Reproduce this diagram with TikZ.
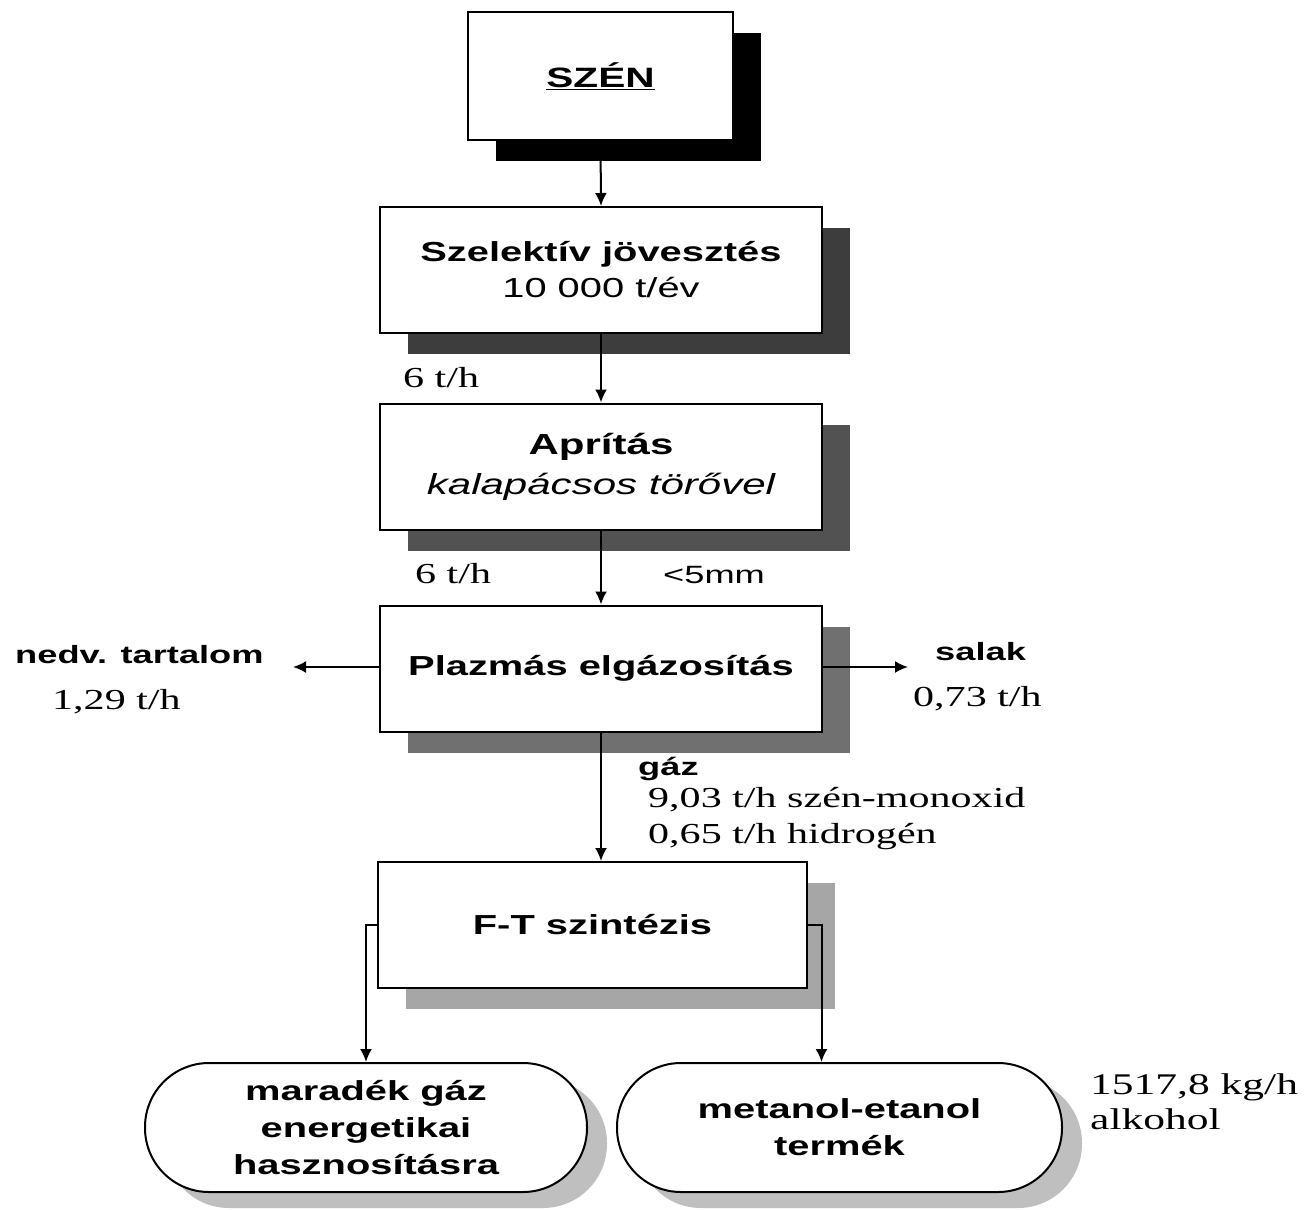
\documentclass[tikz,border=0pt]{standalone}
\usepackage{fontspec}
\setmainfont{Liberation Sans}[FakeStretch=1.45]
\newfontfamily\tnr{Liberation Serif}[FakeStretch=1.45]
\usetikzlibrary{shadows,arrows.meta}

\tikzset{
  procbox/.style={draw, line width=2pt, fill=white, minimum width=442pt, minimum height=126pt,
    inner sep=0pt, align=center, font=\fontsize{27.5}{36}\selectfont\bfseries,
    drop shadow={shadow xshift=28pt, shadow yshift=-21pt, fill=#1, opacity=1}},
  endbox/.style={draw, line width=2pt, fill=white, rounded corners=64pt, minimum width=442pt,
    minimum height=129pt, inner sep=0pt, align=center, font=\fontsize{27.5}{37}\selectfont\bfseries,
    drop shadow={shadow xshift=20pt, shadow yshift=-16pt, fill=black!25, opacity=1}},
  flow/.style={line width=2pt, -{Latex[length=13pt,width=12pt]}},
  lab/.style={font=\fontsize{25}{30}\selectfont\bfseries, inner sep=0pt, anchor=base west},
  val/.style={font=\tnr\fontsize{29}{34}\selectfont, inner sep=0pt, anchor=base west}
}

\begin{document}
\begin{tikzpicture}[x=1pt,y=-1pt]
    \useasboundingbox[fill=white] (0,0) rectangle (1310,1210);
    % boxes
    \node[procbox=black, minimum width=265pt, minimum height=128pt, font=\fontsize{28}{34}\selectfont\bfseries] (szen) at (600.5,76) {\underline{SZÉN}};
    \node[procbox=black!76] (szel) at (601,270) {Szelektív jövesztés\\\mdseries 10 000 t/év};
    \node[procbox=black!68, font=\fontsize{29}{40}\selectfont\bfseries] (apr) at (601,466.5) {Aprítás\\\mdseries\itshape kalapácsos törővel};
    \node[procbox=black!56] (plaz) at (601,668.5) {Plazmás elgázosítás};
    \node[procbox=black!35, minimum width=429pt] (ft) at (592.5,925) {F-T szintézis};
    \node[endbox] (mar) at (366,1127.5) {maradék gáz\\energetikai\\hasznosításra};
    \node[endbox, minimum width=445pt] (met) at (839.5,1127.5) {metanol-etanol\\termék};
    % free ends
    \coordinate (nedvend) at (293,667);
    \coordinate (salend) at (908,667);
    % labels
    \node[val] (t1) at (403,387) {6 t/h};
    \node[val] (t2) at (415,583) {6 t/h};
    \node[lab, font=\fontsize{25}{30}\selectfont] (mm) at (663,583) {<5mm};
    \node[lab] (nedv) at (15,663) {nedv. tartalom};
    \node[val] (t3) at (52,709) {1,29 t/h};
    \node[lab] (salak) at (935,660) {salak};
    \node[val] (t4) at (913,706) {0,73 t/h};
    \node[lab] (gaz) at (638,775) {gáz};
    \node[val] (co) at (648,807) {9,03 t/h szén-monoxid};
    \node[val] (hid) at (648,843) {0,65 t/h hidrogén};
    \node[val, font=\tnr\fontsize{30}{34}\selectfont] (kg) at (1090,1094) {1517,8 kg/h};
    \node[val, font=\tnr\fontsize{30}{34}\selectfont] (alk) at (1090,1129) {alkohol};
    % connectors
    \draw[flow] (szen.south) -- (szel.north);
    \draw[flow] (szel.south) -- (apr.north);
    \draw[flow] (apr.south) -- (plaz.north);
    \draw[flow] (plaz.west |- nedvend) -- (nedvend);
    \draw[flow] (plaz.east |- salend) -- (salend);
    \draw[flow] (plaz.south) -- (plaz.south |- ft.north);
    \draw[flow] (ft.west) -| (mar.north);
    \draw[flow] (ft.east) -| ([xshift=-18pt]met.north);
\end{tikzpicture}
\end{document}
